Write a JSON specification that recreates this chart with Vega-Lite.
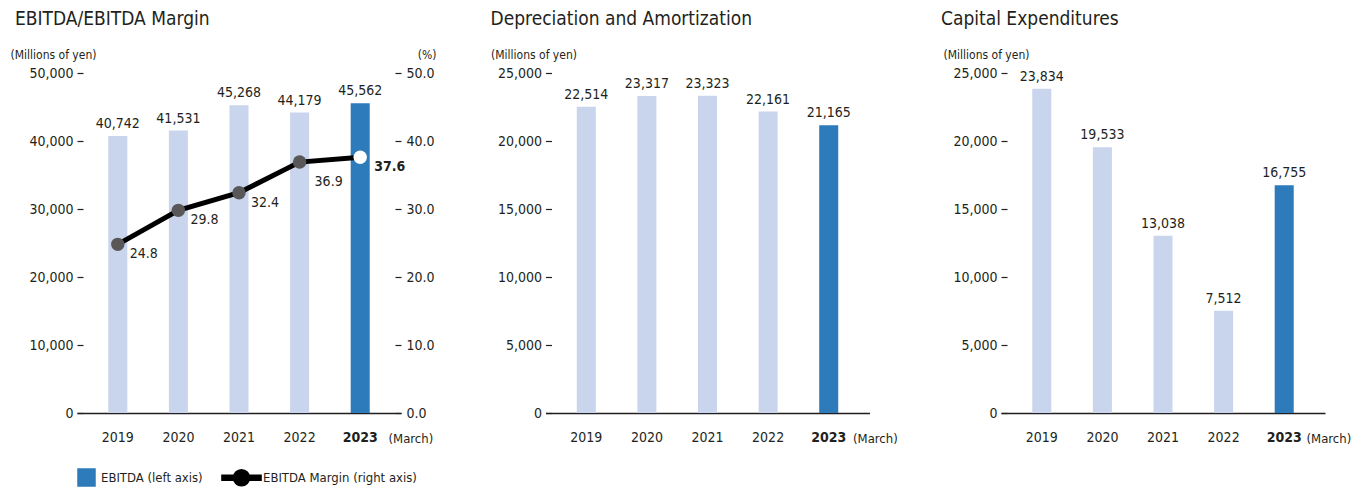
{
  "$schema": "https://vega.github.io/schema/vega-lite/v6.json",
  "padding": {"left": 10, "top": 10, "right": 5, "bottom": 5},
  "background": "white",
  "datasets": {
    "fin": [
      {"year": "2019", "ebitda": 40742, "margin": 24.8, "da": 22514, "capex": 23834},
      {"year": "2020", "ebitda": 41531, "margin": 29.8, "da": 23317, "capex": 19533},
      {"year": "2021", "ebitda": 45268, "margin": 32.4, "da": 23323, "capex": 13038},
      {"year": "2022", "ebitda": 44179, "margin": 36.9, "da": 22161, "capex": 7512},
      {"year": "2023", "ebitda": 45562, "margin": 37.6, "da": 21165, "capex": 16755}
    ]
  },
  "data": {"name": "fin"},
  "spacing": 54.5,
  "hconcat": [
    {
      "width": 324,
      "height": 340,
      "title": {"text": "EBITDA/EBITDA Margin", "dx": 5},
      "encoding": {
        "x": {"field": "year", "type": "ordinal", "scale": {"paddingInner": 0.686, "paddingOuter": 0.516},
              "axis": {"title": "(March)", "titleX": 311}}
      },
      "layer": [
        {
          "encoding": {
            "y": {"field": "ebitda", "type": "quantitative", "scale": {"domain": [0, 50000]},
                  "axis": {"values": [0, 10000, 20000, 30000, 40000, 50000], "format": ",d", "title": "(Millions of yen)", "titleX": -73}}
          },
          "layer": [
            {
              "mark": {"type": "bar"},
              "encoding": {
                "color": {
                  "condition": {"test": "datum.year != '2023'", "value": "#c9d5ec"},
                  "datum": "EBITDA (left axis)",
                  "scale": {"domain": ["EBITDA (left axis)", "EBITDA Margin (right axis)"], "range": ["#2e7bbb", "#000000"]},
                  "legend": {
                    "title": null, "orient": "none", "legendX": 0, "legendY": 395, "direction": "horizontal",
                    "symbolSize": 289, "labelFontSize": 13, "labelOffset": 5, "columnPadding": 15, "labelLimit": 400,
                    "encode": {
                      "symbols": {"update": {
                        "shape": {"signal": "datum.value == 'EBITDA (left axis)' ? 'square' : 'M-2.3,-0.3 L2.3,-0.3 L2.3,0.3 L-2.3,0.3 Z M0,-0.95 A0.95,0.95 0 1,1 0,0.95 A0.95,0.95 0 1,1 0,-0.95 Z'"},
                        "fill": {"signal": "datum.value == 'EBITDA (left axis)' ? '#2e7bbb' : '#2b2b2b'"},
                        "stroke": {"value": "transparent"},
                        "opacity": {"value": 1},
                        "fillOpacity": {"value": 1}
                      }},
                      "labels": {"update": {"dx": {"signal": "datum.value == 'EBITDA (left axis)' ? 0 : 7"}}}
                    }
                  }
                }
              }
            },
            {
              "mark": {"type": "text", "baseline": "bottom", "dy": -5, "fontSize": 14, "fill": "#231f20"},
              "encoding": {
                "text": {"field": "ebitda", "type": "quantitative", "format": ","},
                "fontWeight": {"condition": {"test": "datum.year == '2023'", "value": "bold"}, "value": "normal"}
              }
            }
          ]
        },
        {
          "encoding": {
            "y": {"field": "margin", "type": "quantitative", "scale": {"domain": [0, 50]},
                  "axis": {"orient": "right", "values": [0, 10, 20, 30, 40, 50], "format": ".1f", "title": "(%)", "titleAlign": "right", "titleX": 41, "labelPadding": 5}}
          },
          "layer": [
            {"mark": {"type": "line", "strokeWidth": 5}, "encoding": {"color": {"datum": "EBITDA Margin (right axis)"}}},
            {
              "mark": {"type": "point", "filled": true, "size": 180, "opacity": 1},
              "encoding": {"fill": {"condition": {"test": "datum.year == '2023'", "value": "#ffffff"}, "value": "#595757"}}
            },
            {
              "transform": [{"filter": "datum.year == '2019' || datum.year == '2020' || datum.year == '2021'"}],
              "mark": {"type": "text", "align": "left", "baseline": "middle", "dx": 12, "dy": 10, "fontSize": 14, "fill": "#231f20"},
              "encoding": {"text": {"field": "margin", "type": "quantitative", "format": ".1f"}}
            },
            {
              "transform": [{"filter": "datum.year == '2022'"}],
              "mark": {"type": "text", "align": "left", "baseline": "middle", "dx": 15, "dy": 20, "fontSize": 14, "fill": "#231f20"},
              "encoding": {"text": {"field": "margin", "type": "quantitative", "format": ".1f"}}
            },
            {
              "transform": [{"filter": "datum.year == '2023'"}],
              "mark": {"type": "text", "align": "left", "baseline": "middle", "dx": 14, "dy": 10, "fontSize": 14, "fontWeight": "bold", "fill": "#231f20"},
              "encoding": {"text": {"field": "margin", "type": "quantitative", "format": ".1f"}}
            }
          ]
        }
      ],
      "resolve": {"scale": {"y": "independent"}}
    },
    {
      "spacing": 43.5,
      "hconcat": [
        {
          "width": 324,
          "height": 340,
          "title": {"text": "Depreciation and Amortization", "dx": 0},
          "encoding": {
            "x": {"field": "year", "type": "ordinal", "scale": {"paddingInner": 0.686, "paddingOuter": 0.516},
                  "axis": {"title": "(March)", "titleX": 307}},
            "y": {"field": "da", "type": "quantitative", "scale": {"domain": [0, 25000]},
                  "axis": {"values": [0, 5000, 10000, 15000, 20000, 25000], "format": ",d", "title": "(Millions of yen)", "titleX": -61}}
          },
          "layer": [
            {
              "mark": {"type": "bar"},
              "encoding": {"color": {"condition": {"test": "datum.year == '2023'", "value": "#2e7bbb"}, "value": "#c9d5ec"}}
            },
            {
              "mark": {"type": "text", "baseline": "bottom", "dy": -5, "fontSize": 14, "fill": "#231f20"},
              "encoding": {
                "text": {"field": "da", "type": "quantitative", "format": ","},
                "fontWeight": {"condition": {"test": "datum.year == '2023'", "value": "bold"}, "value": "normal"}
              }
            }
          ]
        },
        {
          "width": 324,
          "height": 340,
          "title": {"text": "Capital Expenditures", "dx": -2},
          "encoding": {
            "x": {"field": "year", "type": "ordinal", "scale": {"paddingInner": 0.686, "paddingOuter": 0.516},
                  "axis": {"title": "(March)", "titleX": 305}},
            "y": {"field": "capex", "type": "quantitative", "scale": {"domain": [0, 25000]},
                  "axis": {"values": [0, 5000, 10000, 15000, 20000, 25000], "format": ",d", "title": "(Millions of yen)", "titleX": -64}}
          },
          "layer": [
            {
              "mark": {"type": "bar"},
              "encoding": {"color": {"condition": {"test": "datum.year == '2023'", "value": "#2e7bbb"}, "value": "#c9d5ec"}}
            },
            {
              "mark": {"type": "text", "baseline": "bottom", "dy": -5, "fontSize": 14, "fill": "#231f20"},
              "encoding": {
                "text": {"field": "capex", "type": "quantitative", "format": ","},
                "fontWeight": {"condition": {"test": "datum.year == '2023'", "value": "bold"}, "value": "normal"}
              }
            }
          ]
        }
      ]
    }
  ],
  "config": {
    "font": "DejaVu Sans Condensed",
    "view": {"stroke": null},
    "title": {"anchor": "start", "frame": "bounds", "fontSize": 19, "fontWeight": "normal", "color": "#231f20", "offset": 19},
    "legend": {"labelColor": "#231f20"},
    "axisX": {
      "domainColor": "#231f20", "domainWidth": 1.5, "ticks": false, "labelAngle": 0, "labelFontSize": 14,
      "labelPadding": 17, "labelColor": "#231f20",
      "titleFontSize": 13, "titleFontWeight": "normal", "titleColor": "#231f20", "titleAlign": "left",
      "titleBaseline": "middle", "titleY": 25, "grid": false,
      "labelFontWeight": {"condition": {"test": "datum.value == '2023'", "value": "bold"}, "value": "normal"}
    },
    "axisY": {
      "domain": false, "grid": false, "tickSize": 6, "offset": -6, "tickColor": "#231f20",
      "tickWidth": 1.2, "labelFontSize": 14, "labelPadding": 4, "labelColor": "#231f20",
      "titleAngle": 0, "titleAlign": "left", "titleBaseline": "alphabetic", "titleY": -15,
      "titleFontSize": 12, "titleFontWeight": "normal", "titleColor": "#231f20"
    }
  }
}
